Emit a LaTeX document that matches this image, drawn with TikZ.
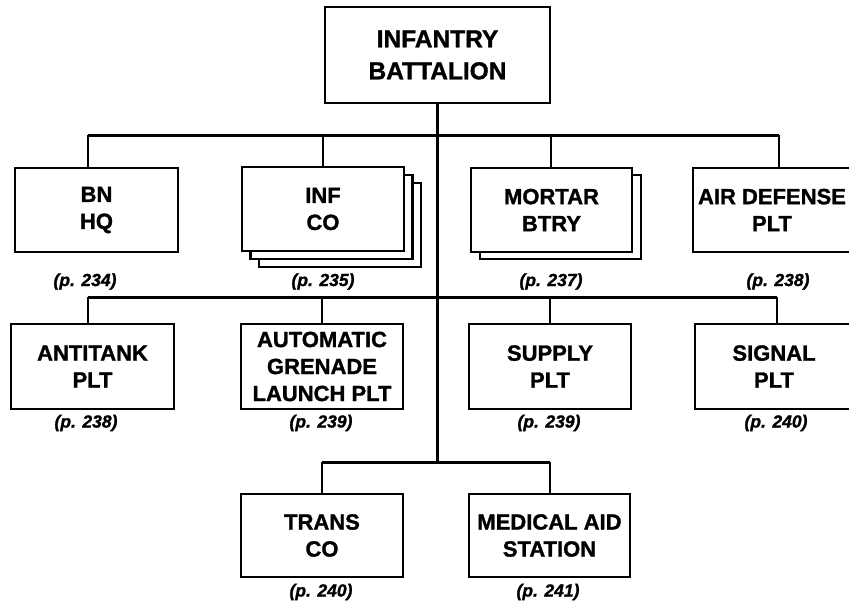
\documentclass[tikz,border=0pt]{standalone}
\usepackage{fontspec}
\setmainfont{Liberation Sans}[BoldFeatures={FakeBold=1.3},BoldItalicFeatures={FakeBold=1.3}]
\usetikzlibrary{shadows}

\begin{document}
\begin{tikzpicture}[x=1pt,y=-1pt,
unit/.style={draw,line width=2.6pt,fill=white,align=center,inner sep=0pt,font=\bfseries\fontsize{22}{27}\selectfont,minimum width=162pt,minimum height=84pt},
stack/.style={double copy shadow={shadow xshift=8.5pt,shadow yshift=-8pt}},
pg/.style={font=\bfseries\itshape\fontsize{17.5}{20}\selectfont},
link/.style={line width=2.2pt},
bar/.style={line width=3pt}]
\useasboundingbox (0,0) rectangle (849,602);
\node[unit,font=\bfseries\fontsize{24.5}{32}\selectfont,minimum width=225pt,minimum height=96pt] (bat) at (437.5,55) {INFANTRY\\BATTALION};
% first row
\node[unit,minimum width=163pt] (hq) at (96.5,210) {BN\\HQ};
\node[unit,stack] (inf) at (323,209) {INF\\CO};
\node[unit,copy shadow={shadow xshift=9pt,shadow yshift=-7pt},minimum width=161pt] (mor) at (551.5,210) {MORTAR\\BTRY};
\node[unit,minimum width=158pt] (air) at (772,210) {AIR DEFENSE\\PLT};
% second row
\node[unit,minimum width=163pt,minimum height=85pt] (at) at (92.5,366.5) {ANTITANK\\PLT};
\node[unit,minimum height=85pt] (agl) at (322,366.5) {AUTOMATIC\\GRENADE\\LAUNCH PLT};
\node[unit,minimum height=85pt] (sup) at (550,366.5) {SUPPLY\\PLT};
\node[unit,minimum width=158pt,minimum height=85pt] (sig) at (774,366.5) {SIGNAL\\PLT};
% third row
\node[unit,minimum height=83pt] (trans) at (322,535.5) {TRANS\\CO};
\node[unit,minimum width=161pt,minimum height=83pt] (med) at (549.5,535.5) {MEDICAL AID\\STATION};
% page references
\node[pg] (p1) at (85,281.5) {(p. 234)};
\node[pg] (p2) at (323,281.5) {(p. 235)};
\node[pg] (p3) at (551,281.5) {(p. 237)};
\node[pg] (p4) at (778,281.5) {(p. 238)};
\node[pg] (p5) at (86,423) {(p. 238)};
\node[pg] (p6) at (321,423) {(p. 239)};
\node[pg] (p7) at (549,423) {(p. 239)};
\node[pg] (p8) at (776,423) {(p. 240)};
\node[pg] (p9) at (321,592) {(p. 240)};
\node[pg] (p10) at (548,592) {(p. 241)};
% connectors
\coordinate (b1l) at (88,135); \coordinate (b1r) at (779,135);
\coordinate (b2l) at (88,297); \coordinate (b2r) at (777,297);
\coordinate (b3l) at (322,462); \coordinate (b3r) at (550,462);
\draw[link] (bat.south) -- (bat.south |- b3l);
\draw[bar] (b1l) -- (b1r);
\draw[bar] (b2l) -- (b2r);
\draw[bar] (b3l) -- (b3r);
\foreach \x/\n in {88/hq,323/inf,551/mor,779/air}
  \draw[link] (\x,135) -- (\x,0 |- \n.north);
\foreach \x/\n in {88/at,322/agl,550/sup,777/sig}
  \draw[link] (\x,297) -- (\x,0 |- \n.north);
\draw[link] (b3l) -- (b3l |- trans.north);
\draw[link] (b3r) -- (b3r |- med.north);
\end{tikzpicture}
\end{document}
